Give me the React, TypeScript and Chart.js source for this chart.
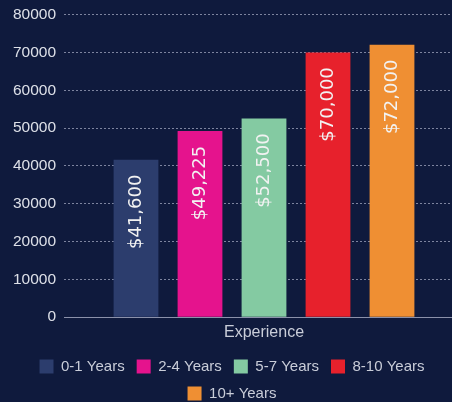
import React, { useEffect, useRef } from "react";
import { Chart, registerables } from "chart.js";

Chart.register(...registerables);

const categories = ["Experience"];
const seriesNames = ["0-1 Years", "2-4 Years", "5-7 Years", "8-10 Years", "10+ Years"];
const seriesValues = [41600, 49225, 52500, 70000, 72000];
const seriesColors = ["#2c3d6d", "#e5138d", "#84caa2", "#e7212c", "#ef8f33"];
const yTicks = [0, 10000, 20000, 30000, 40000, 50000, 60000, 70000, 80000];

const BG = "#0f1a3d";
const GRID = "#7d849f";

const valueLabelPlugin = {
  id: "valueLabels",
  afterDatasetsDraw(chart: any) {
    const ctx = chart.ctx;
    chart.data.datasets.forEach((ds: any, i: number) => {
      const meta = chart.getDatasetMeta(i);
      meta.data.forEach((bar: any, j: number) => {
        const v = ds.data[j];
        const text = "$" + Number(v).toLocaleString("en-US");
        ctx.save();
        ctx.translate(bar.x, bar.y + 52);
        ctx.rotate(-Math.PI / 2);
        ctx.font = "18px 'DejaVu Sans'";
        ctx.fillStyle = "#f2f2f2";
        ctx.textAlign = "center";
        ctx.textBaseline = "middle";
        ctx.fillText(text, 0, 0);
        ctx.restore();
      });
    });
  },
};

export default function App() {
  const ref = useRef<HTMLCanvasElement>(null);
  useEffect(() => {
    if (!ref.current) return;
    const chart = new Chart(ref.current, {
      type: "bar",
      data: {
        labels: categories,
        datasets: seriesNames.map((name, i) => ({
          label: name,
          data: [seriesValues[i]],
          backgroundColor: seriesColors[i],
          borderWidth: 0,
        })),
      },
      options: {
        responsive: false,
        animation: false,
        layout: { padding: { top: 0, right: 3, left: 0, bottom: -9 } },
        datasets: { bar: { categoryPercentage: 0.8, barPercentage: 0.7 } },
        scales: {
          x: {
            grid: { display: false, drawTicks: false },
            border: { display: true, color: "#8b91aa", dash: [4, 3], width: 1, z: 1 },
            ticks: {
              color: "#c9cdd9",
              font: { family: "'Liberation Sans', Arial, sans-serif", size: 16, lineHeight: 1.05 },
              padding: 6.5,
            },
          },
          y: {
            min: 0,
            max: 80000,
            afterBuildTicks: (scale: any) => {
              scale.ticks = yTicks.map((v) => ({ value: v }));
            },
            afterFit: (scale: any) => {
              scale.width = 64;
            },
            grid: {
              color: (c: any) => (c.tick && c.tick.value === 0 ? "rgba(0,0,0,0)" : GRID),
              drawTicks: false,
              lineWidth: 1,
            },
            border: { display: false, dash: [2, 2] },
            ticks: {
              color: "#dde0e8",
              padding: 8,
              callback: (v: any) => String(v),
              font: { family: "'Liberation Sans', Arial, sans-serif", size: 15.5, lineHeight: 0.85 },
            },
          },
        },
        plugins: {
          legend: {
            position: "bottom",
            labels: {
              boxWidth: 14,
              boxHeight: 14,
              padding: 12,
              color: "#c9cdd9",
              font: { family: "'Liberation Sans', Arial, sans-serif", size: 15 },
            },
          },
          tooltip: { enabled: false },
        },
      },
      plugins: [valueLabelPlugin],
    });
    return () => chart.destroy();
  }, []);
  return (
    <div
      style={{
        position: "fixed",
        left: 0,
        top: 0,
        width: 452,
        height: 402,
        overflow: "hidden",
        background: BG,
      }}
    >
      <canvas ref={ref} width={467} height={402} style={{ display: "block" }} />
    </div>
  );
}
